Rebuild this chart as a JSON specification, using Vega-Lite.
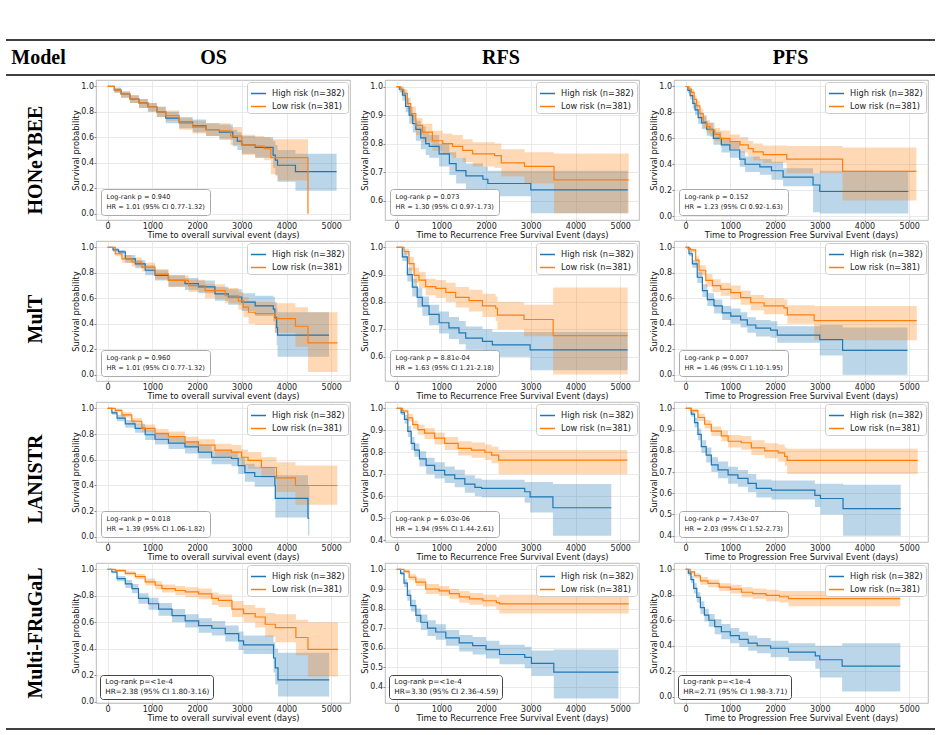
{
"$schema": "https://vega.github.io/schema/vega-lite/v6.json",
"padding": {"left": 5, "top": 39, "right": 5, "bottom": 5},
"background": "white",
"config": {
  "font": "DejaVu Sans",
  "view": {"stroke": "#aaaaaa", "strokeWidth": 0.8},
  "axis": {"labelFontSize": 8, "titleFontSize": 8.3, "labelColor": "#222222", "titleColor": "#111111", "titleFontWeight": "normal", "gridColor": "#e5e5e5", "gridWidth": 0.8, "domain": false, "tickColor": "#888888", "tickSize": 2, "labelPadding": 0.5, "titlePadding": 0, "labelFont": "DejaVu Sans", "titleFont": "DejaVu Sans", "labelOverlap": false}
},
"datasets": {
"p1": [
{"g":"High risk (n=382)","t":0,"s":1,"lo":1,"hi":1},{"g":"High risk (n=382)","t":150,"s":0.97,"lo":0.95,"hi":0.99},{"g":"High risk (n=382)","t":300,"s":0.94,"lo":0.91,"hi":0.96},{"g":"High risk (n=382)","t":500,"s":0.9,"lo":0.87,"hi":0.93},{"g":"High risk (n=382)","t":700,"s":0.87,"lo":0.83,"hi":0.9},{"g":"High risk (n=382)","t":900,"s":0.84,"lo":0.8,"hi":0.87},{"g":"High risk (n=382)","t":1100,"s":0.8,"lo":0.76,"hi":0.84},{"g":"High risk (n=382)","t":1300,"s":0.75,"lo":0.71,"hi":0.8},{"g":"High risk (n=382)","t":1600,"s":0.72,"lo":0.67,"hi":0.76},{"g":"High risk (n=382)","t":1900,"s":0.69,"lo":0.64,"hi":0.74},{"g":"High risk (n=382)","t":2200,"s":0.66,"lo":0.61,"hi":0.71},{"g":"High risk (n=382)","t":2500,"s":0.64,"lo":0.58,"hi":0.7},{"g":"High risk (n=382)","t":2800,"s":0.6,"lo":0.53,"hi":0.66},{"g":"High risk (n=382)","t":2900,"s":0.57,"lo":0.5,"hi":0.64},{"g":"High risk (n=382)","t":3000,"s":0.54,"lo":0.47,"hi":0.61},{"g":"High risk (n=382)","t":3300,"s":0.52,"lo":0.44,"hi":0.6},{"g":"High risk (n=382)","t":3700,"s":0.46,"lo":0.36,"hi":0.57},{"g":"High risk (n=382)","t":3750,"s":0.42,"lo":0.3,"hi":0.54},{"g":"High risk (n=382)","t":3800,"s":0.38,"lo":0.25,"hi":0.5},{"g":"High risk (n=382)","t":4200,"s":0.33,"lo":0.18,"hi":0.47},{"g":"High risk (n=382)","t":5120,"s":0.33,"lo":0.18,"hi":0.47},
{"g":"Low risk (n=381)","t":0,"s":1,"lo":1,"hi":1},{"g":"Low risk (n=381)","t":150,"s":0.97,"lo":0.95,"hi":0.99},{"g":"Low risk (n=381)","t":300,"s":0.94,"lo":0.91,"hi":0.96},{"g":"Low risk (n=381)","t":500,"s":0.9,"lo":0.87,"hi":0.93},{"g":"Low risk (n=381)","t":700,"s":0.87,"lo":0.83,"hi":0.9},{"g":"Low risk (n=381)","t":900,"s":0.84,"lo":0.8,"hi":0.87},{"g":"Low risk (n=381)","t":1100,"s":0.8,"lo":0.76,"hi":0.84},{"g":"Low risk (n=381)","t":1300,"s":0.77,"lo":0.73,"hi":0.81},{"g":"Low risk (n=381)","t":1600,"s":0.71,"lo":0.66,"hi":0.75},{"g":"Low risk (n=381)","t":1900,"s":0.68,"lo":0.63,"hi":0.73},{"g":"Low risk (n=381)","t":2200,"s":0.66,"lo":0.61,"hi":0.71},{"g":"Low risk (n=381)","t":2500,"s":0.65,"lo":0.59,"hi":0.71},{"g":"Low risk (n=381)","t":2750,"s":0.61,"lo":0.54,"hi":0.68},{"g":"Low risk (n=381)","t":3000,"s":0.54,"lo":0.46,"hi":0.62},{"g":"Low risk (n=381)","t":3300,"s":0.53,"lo":0.44,"hi":0.61},{"g":"Low risk (n=381)","t":3500,"s":0.51,"lo":0.42,"hi":0.6},{"g":"Low risk (n=381)","t":3650,"s":0.44,"lo":0.31,"hi":0.585},{"g":"Low risk (n=381)","t":3800,"s":0.44,"lo":0.26,"hi":0.585},{"g":"Low risk (n=381)","t":4480,"s":0,"lo":0,"hi":0}
],
"p2": [
{"g":"High risk (n=382)","t":0,"s":1,"lo":1,"hi":1},{"g":"High risk (n=382)","t":60,"s":0.99,"lo":0.98,"hi":1},{"g":"High risk (n=382)","t":130,"s":0.97,"lo":0.95,"hi":0.99},{"g":"High risk (n=382)","t":200,"s":0.93,"lo":0.91,"hi":0.96},{"g":"High risk (n=382)","t":280,"s":0.9,"lo":0.87,"hi":0.93},{"g":"High risk (n=382)","t":360,"s":0.87,"lo":0.84,"hi":0.9},{"g":"High risk (n=382)","t":430,"s":0.85,"lo":0.81,"hi":0.88},{"g":"High risk (n=382)","t":540,"s":0.82,"lo":0.78,"hi":0.86},{"g":"High risk (n=382)","t":650,"s":0.8,"lo":0.76,"hi":0.84},{"g":"High risk (n=382)","t":730,"s":0.79,"lo":0.75,"hi":0.83},{"g":"High risk (n=382)","t":950,"s":0.764,"lo":0.72,"hi":0.8},{"g":"High risk (n=382)","t":1180,"s":0.73,"lo":0.69,"hi":0.77},{"g":"High risk (n=382)","t":1330,"s":0.705,"lo":0.66,"hi":0.75},{"g":"High risk (n=382)","t":1550,"s":0.687,"lo":0.64,"hi":0.73},{"g":"High risk (n=382)","t":1930,"s":0.675,"lo":0.625,"hi":0.72},{"g":"High risk (n=382)","t":2040,"s":0.66,"lo":0.615,"hi":0.705},{"g":"High risk (n=382)","t":3000,"s":0.638,"lo":0.556,"hi":0.705},{"g":"High risk (n=382)","t":5170,"s":0.638,"lo":0.556,"hi":0.705},
{"g":"Low risk (n=381)","t":0,"s":1,"lo":1,"hi":1},{"g":"Low risk (n=381)","t":80,"s":0.99,"lo":0.98,"hi":1},{"g":"Low risk (n=381)","t":160,"s":0.976,"lo":0.96,"hi":0.99},{"g":"Low risk (n=381)","t":240,"s":0.94,"lo":0.92,"hi":0.96},{"g":"Low risk (n=381)","t":315,"s":0.905,"lo":0.88,"hi":0.93},{"g":"Low risk (n=381)","t":430,"s":0.864,"lo":0.83,"hi":0.89},{"g":"Low risk (n=381)","t":580,"s":0.84,"lo":0.805,"hi":0.87},{"g":"Low risk (n=381)","t":800,"s":0.81,"lo":0.775,"hi":0.845},{"g":"Low risk (n=381)","t":1030,"s":0.8,"lo":0.76,"hi":0.835},{"g":"Low risk (n=381)","t":1250,"s":0.79,"lo":0.75,"hi":0.83},{"g":"Low risk (n=381)","t":1480,"s":0.776,"lo":0.735,"hi":0.815},{"g":"Low risk (n=381)","t":1700,"s":0.764,"lo":0.72,"hi":0.805},{"g":"Low risk (n=381)","t":2190,"s":0.758,"lo":0.715,"hi":0.8},{"g":"Low risk (n=381)","t":2340,"s":0.732,"lo":0.685,"hi":0.78},{"g":"Low risk (n=381)","t":2860,"s":0.72,"lo":0.66,"hi":0.77},{"g":"Low risk (n=381)","t":3520,"s":0.673,"lo":0.556,"hi":0.765},{"g":"Low risk (n=381)","t":5190,"s":0.673,"lo":0.556,"hi":0.765}
],
"p3": [
{"g":"High risk (n=382)","t":0,"s":1,"lo":1,"hi":1},{"g":"High risk (n=382)","t":50,"s":0.97,"lo":0.95,"hi":0.99},{"g":"High risk (n=382)","t":100,"s":0.93,"lo":0.9,"hi":0.96},{"g":"High risk (n=382)","t":160,"s":0.87,"lo":0.83,"hi":0.9},{"g":"High risk (n=382)","t":210,"s":0.82,"lo":0.78,"hi":0.86},{"g":"High risk (n=382)","t":280,"s":0.76,"lo":0.71,"hi":0.8},{"g":"High risk (n=382)","t":360,"s":0.72,"lo":0.67,"hi":0.77},{"g":"High risk (n=382)","t":470,"s":0.67,"lo":0.62,"hi":0.72},{"g":"High risk (n=382)","t":620,"s":0.6,"lo":0.55,"hi":0.65},{"g":"High risk (n=382)","t":800,"s":0.55,"lo":0.49,"hi":0.6},{"g":"High risk (n=382)","t":990,"s":0.51,"lo":0.45,"hi":0.57},{"g":"High risk (n=382)","t":1210,"s":0.44,"lo":0.38,"hi":0.5},{"g":"High risk (n=382)","t":1330,"s":0.4,"lo":0.34,"hi":0.46},{"g":"High risk (n=382)","t":1660,"s":0.38,"lo":0.32,"hi":0.44},{"g":"High risk (n=382)","t":1920,"s":0.35,"lo":0.28,"hi":0.42},{"g":"High risk (n=382)","t":2180,"s":0.3,"lo":0.23,"hi":0.37},{"g":"High risk (n=382)","t":2850,"s":0.24,"lo":0.03,"hi":0.33},{"g":"High risk (n=382)","t":3000,"s":0.19,"lo":0.02,"hi":0.35},{"g":"High risk (n=382)","t":4980,"s":0.19,"lo":0.02,"hi":0.35},
{"g":"Low risk (n=381)","t":0,"s":1,"lo":1,"hi":1},{"g":"Low risk (n=381)","t":70,"s":0.98,"lo":0.96,"hi":1},{"g":"Low risk (n=381)","t":130,"s":0.955,"lo":0.93,"hi":0.98},{"g":"Low risk (n=381)","t":190,"s":0.9,"lo":0.87,"hi":0.93},{"g":"Low risk (n=381)","t":245,"s":0.85,"lo":0.81,"hi":0.89},{"g":"Low risk (n=381)","t":320,"s":0.79,"lo":0.75,"hi":0.83},{"g":"Low risk (n=381)","t":395,"s":0.73,"lo":0.68,"hi":0.78},{"g":"Low risk (n=381)","t":470,"s":0.69,"lo":0.64,"hi":0.74},{"g":"Low risk (n=381)","t":545,"s":0.665,"lo":0.61,"hi":0.72},{"g":"Low risk (n=381)","t":650,"s":0.63,"lo":0.58,"hi":0.68},{"g":"Low risk (n=381)","t":770,"s":0.6,"lo":0.55,"hi":0.66},{"g":"Low risk (n=381)","t":990,"s":0.575,"lo":0.52,"hi":0.63},{"g":"Low risk (n=381)","t":1215,"s":0.55,"lo":0.49,"hi":0.61},{"g":"Low risk (n=381)","t":1400,"s":0.52,"lo":0.46,"hi":0.58},{"g":"Low risk (n=381)","t":1510,"s":0.495,"lo":0.43,"hi":0.56},{"g":"Low risk (n=381)","t":1735,"s":0.475,"lo":0.41,"hi":0.545},{"g":"Low risk (n=381)","t":2260,"s":0.44,"lo":0.33,"hi":0.54},{"g":"Low risk (n=381)","t":3510,"s":0.345,"lo":0.12,"hi":0.53},{"g":"Low risk (n=381)","t":5160,"s":0.345,"lo":0.12,"hi":0.53}
],
"p4": [
{"g":"High risk (n=382)","t":0,"s":1,"lo":1,"hi":1},{"g":"High risk (n=382)","t":120,"s":0.98,"lo":0.965,"hi":0.995},{"g":"High risk (n=382)","t":245,"s":0.965,"lo":0.945,"hi":0.98},{"g":"High risk (n=382)","t":395,"s":0.91,"lo":0.88,"hi":0.94},{"g":"High risk (n=382)","t":620,"s":0.87,"lo":0.835,"hi":0.9},{"g":"High risk (n=382)","t":840,"s":0.82,"lo":0.78,"hi":0.86},{"g":"High risk (n=382)","t":1060,"s":0.78,"lo":0.74,"hi":0.82},{"g":"High risk (n=382)","t":1360,"s":0.74,"lo":0.69,"hi":0.78},{"g":"High risk (n=382)","t":1730,"s":0.715,"lo":0.665,"hi":0.76},{"g":"High risk (n=382)","t":2030,"s":0.69,"lo":0.64,"hi":0.74},{"g":"High risk (n=382)","t":2400,"s":0.635,"lo":0.58,"hi":0.69},{"g":"High risk (n=382)","t":2700,"s":0.61,"lo":0.55,"hi":0.67},{"g":"High risk (n=382)","t":3000,"s":0.57,"lo":0.5,"hi":0.64},{"g":"High risk (n=382)","t":3300,"s":0.54,"lo":0.46,"hi":0.62},{"g":"High risk (n=382)","t":3705,"s":0.515,"lo":0.42,"hi":0.61},{"g":"High risk (n=382)","t":3740,"s":0.45,"lo":0.33,"hi":0.57},{"g":"High risk (n=382)","t":3780,"s":0.37,"lo":0.23,"hi":0.52},{"g":"High risk (n=382)","t":3800,"s":0.31,"lo":0.14,"hi":0.49},{"g":"High risk (n=382)","t":4950,"s":0.31,"lo":0.14,"hi":0.49},
{"g":"Low risk (n=381)","t":0,"s":1,"lo":1,"hi":1},{"g":"Low risk (n=381)","t":170,"s":0.95,"lo":0.93,"hi":0.97},{"g":"Low risk (n=381)","t":320,"s":0.91,"lo":0.88,"hi":0.94},{"g":"Low risk (n=381)","t":540,"s":0.885,"lo":0.85,"hi":0.92},{"g":"Low risk (n=381)","t":765,"s":0.845,"lo":0.81,"hi":0.88},{"g":"Low risk (n=381)","t":1060,"s":0.79,"lo":0.75,"hi":0.83},{"g":"Low risk (n=381)","t":1360,"s":0.74,"lo":0.69,"hi":0.78},{"g":"Low risk (n=381)","t":1810,"s":0.7,"lo":0.65,"hi":0.745},{"g":"Low risk (n=381)","t":2180,"s":0.66,"lo":0.6,"hi":0.71},{"g":"Low risk (n=381)","t":2630,"s":0.62,"lo":0.56,"hi":0.68},{"g":"Low risk (n=381)","t":2925,"s":0.58,"lo":0.51,"hi":0.65},{"g":"Low risk (n=381)","t":3035,"s":0.53,"lo":0.45,"hi":0.61},{"g":"Low risk (n=381)","t":3150,"s":0.49,"lo":0.4,"hi":0.58},{"g":"Low risk (n=381)","t":3300,"s":0.48,"lo":0.39,"hi":0.57},{"g":"Low risk (n=381)","t":3740,"s":0.44,"lo":0.33,"hi":0.56},{"g":"Low risk (n=381)","t":4200,"s":0.38,"lo":0.22,"hi":0.53},{"g":"Low risk (n=381)","t":4480,"s":0.25,"lo":0.02,"hi":0.49},{"g":"Low risk (n=381)","t":5140,"s":0.25,"lo":0.02,"hi":0.49}
],
"p5": [
{"g":"High risk (n=382)","t":0,"s":1,"lo":1,"hi":1},{"g":"High risk (n=382)","t":50,"s":1,"lo":1,"hi":1},{"g":"High risk (n=382)","t":127,"s":0.965,"lo":0.95,"hi":0.98},{"g":"High risk (n=382)","t":240,"s":0.9,"lo":0.875,"hi":0.925},{"g":"High risk (n=382)","t":350,"s":0.854,"lo":0.82,"hi":0.885},{"g":"High risk (n=382)","t":460,"s":0.817,"lo":0.78,"hi":0.85},{"g":"High risk (n=382)","t":575,"s":0.786,"lo":0.75,"hi":0.82},{"g":"High risk (n=382)","t":725,"s":0.755,"lo":0.715,"hi":0.79},{"g":"High risk (n=382)","t":950,"s":0.724,"lo":0.685,"hi":0.765},{"g":"High risk (n=382)","t":1170,"s":0.705,"lo":0.665,"hi":0.745},{"g":"High risk (n=382)","t":1395,"s":0.687,"lo":0.645,"hi":0.73},{"g":"High risk (n=382)","t":1545,"s":0.668,"lo":0.625,"hi":0.71},{"g":"High risk (n=382)","t":1920,"s":0.656,"lo":0.61,"hi":0.7},{"g":"High risk (n=382)","t":2140,"s":0.643,"lo":0.6,"hi":0.69},{"g":"High risk (n=382)","t":2985,"s":0.625,"lo":0.55,"hi":0.69},{"g":"High risk (n=382)","t":5165,"s":0.625,"lo":0.55,"hi":0.69},
{"g":"Low risk (n=381)","t":0,"s":1,"lo":1,"hi":1},{"g":"Low risk (n=381)","t":80,"s":1,"lo":1,"hi":1},{"g":"Low risk (n=381)","t":165,"s":0.984,"lo":0.975,"hi":0.995},{"g":"Low risk (n=381)","t":275,"s":0.94,"lo":0.915,"hi":0.965},{"g":"Low risk (n=381)","t":390,"s":0.897,"lo":0.87,"hi":0.925},{"g":"Low risk (n=381)","t":500,"s":0.88,"lo":0.85,"hi":0.91},{"g":"Low risk (n=381)","t":650,"s":0.856,"lo":0.825,"hi":0.885},{"g":"Low risk (n=381)","t":875,"s":0.85,"lo":0.815,"hi":0.88},{"g":"Low risk (n=381)","t":1100,"s":0.835,"lo":0.8,"hi":0.87},{"g":"Low risk (n=381)","t":1320,"s":0.817,"lo":0.78,"hi":0.855},{"g":"Low risk (n=381)","t":1620,"s":0.805,"lo":0.765,"hi":0.845},{"g":"Low risk (n=381)","t":1920,"s":0.786,"lo":0.745,"hi":0.83},{"g":"Low risk (n=381)","t":2215,"s":0.777,"lo":0.73,"hi":0.82},{"g":"Low risk (n=381)","t":2255,"s":0.752,"lo":0.7,"hi":0.8},{"g":"Low risk (n=381)","t":2850,"s":0.736,"lo":0.675,"hi":0.79},{"g":"Low risk (n=381)","t":3500,"s":0.677,"lo":0.535,"hi":0.853},{"g":"Low risk (n=381)","t":5165,"s":0.677,"lo":0.535,"hi":0.853}
],
"p6": [
{"g":"High risk (n=382)","t":0,"s":1,"lo":1,"hi":1},{"g":"High risk (n=382)","t":75,"s":0.95,"lo":0.93,"hi":0.97},{"g":"High risk (n=382)","t":150,"s":0.87,"lo":0.84,"hi":0.9},{"g":"High risk (n=382)","t":260,"s":0.765,"lo":0.72,"hi":0.81},{"g":"High risk (n=382)","t":375,"s":0.66,"lo":0.61,"hi":0.71},{"g":"High risk (n=382)","t":485,"s":0.59,"lo":0.54,"hi":0.64},{"g":"High risk (n=382)","t":635,"s":0.54,"lo":0.48,"hi":0.59},{"g":"High risk (n=382)","t":820,"s":0.485,"lo":0.43,"hi":0.54},{"g":"High risk (n=382)","t":1010,"s":0.46,"lo":0.4,"hi":0.52},{"g":"High risk (n=382)","t":1230,"s":0.43,"lo":0.37,"hi":0.49},{"g":"High risk (n=382)","t":1380,"s":0.39,"lo":0.33,"hi":0.45},{"g":"High risk (n=382)","t":1570,"s":0.365,"lo":0.3,"hi":0.43},{"g":"High risk (n=382)","t":1900,"s":0.35,"lo":0.29,"hi":0.42},{"g":"High risk (n=382)","t":2050,"s":0.31,"lo":0.25,"hi":0.38},{"g":"High risk (n=382)","t":3000,"s":0.275,"lo":0.15,"hi":0.39},{"g":"High risk (n=382)","t":3510,"s":0.19,"lo":0,"hi":0.37},{"g":"High risk (n=382)","t":4960,"s":0.19,"lo":0,"hi":0.37},
{"g":"Low risk (n=381)","t":0,"s":1,"lo":1,"hi":1},{"g":"Low risk (n=381)","t":50,"s":0.99,"lo":0.98,"hi":1},{"g":"Low risk (n=381)","t":110,"s":0.98,"lo":0.96,"hi":0.99},{"g":"Low risk (n=381)","t":225,"s":0.9,"lo":0.87,"hi":0.93},{"g":"Low risk (n=381)","t":300,"s":0.82,"lo":0.78,"hi":0.86},{"g":"Low risk (n=381)","t":450,"s":0.74,"lo":0.69,"hi":0.79},{"g":"Low risk (n=381)","t":600,"s":0.7,"lo":0.65,"hi":0.75},{"g":"Low risk (n=381)","t":785,"s":0.67,"lo":0.62,"hi":0.72},{"g":"Low risk (n=381)","t":1010,"s":0.645,"lo":0.59,"hi":0.7},{"g":"Low risk (n=381)","t":1230,"s":0.605,"lo":0.55,"hi":0.66},{"g":"Low risk (n=381)","t":1455,"s":0.565,"lo":0.505,"hi":0.625},{"g":"Low risk (n=381)","t":1755,"s":0.54,"lo":0.475,"hi":0.6},{"g":"Low risk (n=381)","t":2200,"s":0.525,"lo":0.46,"hi":0.59},{"g":"Low risk (n=381)","t":2275,"s":0.47,"lo":0.4,"hi":0.545},{"g":"Low risk (n=381)","t":2875,"s":0.425,"lo":0.27,"hi":0.54},{"g":"Low risk (n=381)","t":5170,"s":0.425,"lo":0.27,"hi":0.54}
],
"p7": [
{"g":"High risk (n=382)","t":0,"s":1,"lo":1,"hi":1},{"g":"High risk (n=382)","t":95,"s":0.965,"lo":0.95,"hi":0.98},{"g":"High risk (n=382)","t":210,"s":0.925,"lo":0.9,"hi":0.95},{"g":"High risk (n=382)","t":395,"s":0.88,"lo":0.85,"hi":0.91},{"g":"High risk (n=382)","t":615,"s":0.845,"lo":0.81,"hi":0.88},{"g":"High risk (n=382)","t":840,"s":0.795,"lo":0.755,"hi":0.835},{"g":"High risk (n=382)","t":1060,"s":0.76,"lo":0.72,"hi":0.8},{"g":"High risk (n=382)","t":1360,"s":0.73,"lo":0.685,"hi":0.775},{"g":"High risk (n=382)","t":1730,"s":0.7,"lo":0.65,"hi":0.745},{"g":"High risk (n=382)","t":2030,"s":0.66,"lo":0.61,"hi":0.71},{"g":"High risk (n=382)","t":2325,"s":0.62,"lo":0.565,"hi":0.675},{"g":"High risk (n=382)","t":2770,"s":0.61,"lo":0.55,"hi":0.665},{"g":"High risk (n=382)","t":2920,"s":0.555,"lo":0.49,"hi":0.62},{"g":"High risk (n=382)","t":3070,"s":0.5,"lo":0.43,"hi":0.57},{"g":"High risk (n=382)","t":3290,"s":0.47,"lo":0.39,"hi":0.545},{"g":"High risk (n=382)","t":3740,"s":0.4,"lo":0.29,"hi":0.51},{"g":"High risk (n=382)","t":3750,"s":0.3,"lo":0.15,"hi":0.48},{"g":"High risk (n=382)","t":4480,"s":0.145,"lo":0.01,"hi":0.4},{"g":"High risk (n=382)","t":4510,"s":0.145,"lo":0.01,"hi":0.4},
{"g":"Low risk (n=381)","t":0,"s":1,"lo":1,"hi":1},{"g":"Low risk (n=381)","t":170,"s":0.985,"lo":0.975,"hi":0.995},{"g":"Low risk (n=381)","t":320,"s":0.95,"lo":0.93,"hi":0.97},{"g":"Low risk (n=381)","t":540,"s":0.9,"lo":0.875,"hi":0.925},{"g":"Low risk (n=381)","t":765,"s":0.845,"lo":0.815,"hi":0.875},{"g":"Low risk (n=381)","t":1060,"s":0.805,"lo":0.77,"hi":0.84},{"g":"Low risk (n=381)","t":1360,"s":0.78,"lo":0.74,"hi":0.82},{"g":"Low risk (n=381)","t":1730,"s":0.74,"lo":0.7,"hi":0.78},{"g":"Low risk (n=381)","t":2030,"s":0.715,"lo":0.67,"hi":0.76},{"g":"Low risk (n=381)","t":2400,"s":0.675,"lo":0.625,"hi":0.725},{"g":"Low risk (n=381)","t":2770,"s":0.66,"lo":0.605,"hi":0.715},{"g":"Low risk (n=381)","t":2995,"s":0.62,"lo":0.56,"hi":0.68},{"g":"Low risk (n=381)","t":3140,"s":0.595,"lo":0.53,"hi":0.66},{"g":"Low risk (n=381)","t":3440,"s":0.54,"lo":0.46,"hi":0.62},{"g":"Low risk (n=381)","t":3775,"s":0.46,"lo":0.35,"hi":0.58},{"g":"Low risk (n=381)","t":4200,"s":0.4,"lo":0.25,"hi":0.555},{"g":"Low risk (n=381)","t":5135,"s":0.4,"lo":0.25,"hi":0.555}
],
"p8": [
{"g":"High risk (n=382)","t":0,"s":1,"lo":1,"hi":1},{"g":"High risk (n=382)","t":50,"s":1,"lo":1,"hi":1},{"g":"High risk (n=382)","t":100,"s":0.98,"lo":0.97,"hi":0.99},{"g":"High risk (n=382)","t":175,"s":0.95,"lo":0.93,"hi":0.97},{"g":"High risk (n=382)","t":250,"s":0.895,"lo":0.87,"hi":0.92},{"g":"High risk (n=382)","t":325,"s":0.84,"lo":0.81,"hi":0.87},{"g":"High risk (n=382)","t":400,"s":0.81,"lo":0.78,"hi":0.84},{"g":"High risk (n=382)","t":510,"s":0.77,"lo":0.735,"hi":0.805},{"g":"High risk (n=382)","t":660,"s":0.74,"lo":0.7,"hi":0.775},{"g":"High risk (n=382)","t":850,"s":0.717,"lo":0.68,"hi":0.755},{"g":"High risk (n=382)","t":1075,"s":0.697,"lo":0.66,"hi":0.735},{"g":"High risk (n=382)","t":1300,"s":0.68,"lo":0.64,"hi":0.72},{"g":"High risk (n=382)","t":1525,"s":0.655,"lo":0.615,"hi":0.695},{"g":"High risk (n=382)","t":1750,"s":0.64,"lo":0.6,"hi":0.68},{"g":"High risk (n=382)","t":1900,"s":0.635,"lo":0.595,"hi":0.675},{"g":"High risk (n=382)","t":2865,"s":0.62,"lo":0.57,"hi":0.665},{"g":"High risk (n=382)","t":2985,"s":0.597,"lo":0.525,"hi":0.665},{"g":"High risk (n=382)","t":3495,"s":0.547,"lo":0.42,"hi":0.655},{"g":"High risk (n=382)","t":4800,"s":0.547,"lo":0.42,"hi":0.655},
{"g":"Low risk (n=381)","t":0,"s":1,"lo":1,"hi":1},{"g":"Low risk (n=381)","t":50,"s":1,"lo":1,"hi":1},{"g":"Low risk (n=381)","t":135,"s":0.988,"lo":0.98,"hi":0.995},{"g":"Low risk (n=381)","t":250,"s":0.957,"lo":0.94,"hi":0.975},{"g":"Low risk (n=381)","t":360,"s":0.926,"lo":0.905,"hi":0.945},{"g":"Low risk (n=381)","t":475,"s":0.903,"lo":0.88,"hi":0.925},{"g":"Low risk (n=381)","t":625,"s":0.887,"lo":0.86,"hi":0.91},{"g":"Low risk (n=381)","t":850,"s":0.864,"lo":0.835,"hi":0.89},{"g":"Low risk (n=381)","t":1075,"s":0.84,"lo":0.81,"hi":0.87},{"g":"Low risk (n=381)","t":1375,"s":0.818,"lo":0.785,"hi":0.85},{"g":"Low risk (n=381)","t":1675,"s":0.81,"lo":0.775,"hi":0.845},{"g":"Low risk (n=381)","t":1975,"s":0.8,"lo":0.765,"hi":0.835},{"g":"Low risk (n=381)","t":2125,"s":0.787,"lo":0.75,"hi":0.825},{"g":"Low risk (n=381)","t":2280,"s":0.764,"lo":0.7,"hi":0.81},{"g":"Low risk (n=381)","t":5160,"s":0.764,"lo":0.7,"hi":0.81}
],
"p9": [
{"g":"High risk (n=382)","t":0,"s":1,"lo":1,"hi":1},{"g":"High risk (n=382)","t":50,"s":1,"lo":1,"hi":1},{"g":"High risk (n=382)","t":125,"s":0.973,"lo":0.96,"hi":0.985},{"g":"High risk (n=382)","t":200,"s":0.933,"lo":0.91,"hi":0.955},{"g":"High risk (n=382)","t":275,"s":0.877,"lo":0.85,"hi":0.905},{"g":"High risk (n=382)","t":350,"s":0.82,"lo":0.79,"hi":0.85},{"g":"High risk (n=382)","t":460,"s":0.78,"lo":0.745,"hi":0.815},{"g":"High risk (n=382)","t":575,"s":0.734,"lo":0.7,"hi":0.77},{"g":"High risk (n=382)","t":725,"s":0.71,"lo":0.67,"hi":0.75},{"g":"High risk (n=382)","t":950,"s":0.686,"lo":0.645,"hi":0.725},{"g":"High risk (n=382)","t":1170,"s":0.67,"lo":0.63,"hi":0.71},{"g":"High risk (n=382)","t":1395,"s":0.646,"lo":0.605,"hi":0.69},{"g":"High risk (n=382)","t":1580,"s":0.623,"lo":0.58,"hi":0.665},{"g":"High risk (n=382)","t":1920,"s":0.615,"lo":0.57,"hi":0.66},{"g":"High risk (n=382)","t":2890,"s":0.59,"lo":0.535,"hi":0.645},{"g":"High risk (n=382)","t":3015,"s":0.575,"lo":0.5,"hi":0.645},{"g":"High risk (n=382)","t":3520,"s":0.527,"lo":0.4,"hi":0.64},{"g":"High risk (n=382)","t":4810,"s":0.527,"lo":0.4,"hi":0.64},
{"g":"Low risk (n=381)","t":0,"s":1,"lo":1,"hi":1},{"g":"Low risk (n=381)","t":50,"s":1,"lo":1,"hi":1},{"g":"Low risk (n=381)","t":125,"s":0.989,"lo":0.98,"hi":0.997},{"g":"Low risk (n=381)","t":275,"s":0.957,"lo":0.94,"hi":0.975},{"g":"Low risk (n=381)","t":425,"s":0.925,"lo":0.905,"hi":0.945},{"g":"Low risk (n=381)","t":575,"s":0.893,"lo":0.87,"hi":0.915},{"g":"Low risk (n=381)","t":800,"s":0.87,"lo":0.845,"hi":0.895},{"g":"Low risk (n=381)","t":950,"s":0.845,"lo":0.815,"hi":0.875},{"g":"Low risk (n=381)","t":1245,"s":0.838,"lo":0.805,"hi":0.87},{"g":"Low risk (n=381)","t":1470,"s":0.814,"lo":0.78,"hi":0.85},{"g":"Low risk (n=381)","t":1770,"s":0.8,"lo":0.765,"hi":0.835},{"g":"Low risk (n=381)","t":2070,"s":0.79,"lo":0.75,"hi":0.83},{"g":"Low risk (n=381)","t":2215,"s":0.774,"lo":0.73,"hi":0.815},{"g":"Low risk (n=381)","t":2270,"s":0.755,"lo":0.69,"hi":0.81},{"g":"Low risk (n=381)","t":5190,"s":0.755,"lo":0.69,"hi":0.81}
],
"p10": [
{"g":"High risk (n=382)","t":0,"s":1,"lo":1,"hi":1},{"g":"High risk (n=382)","t":95,"s":0.98,"lo":0.97,"hi":0.99},{"g":"High risk (n=382)","t":210,"s":0.93,"lo":0.91,"hi":0.95},{"g":"High risk (n=382)","t":395,"s":0.89,"lo":0.86,"hi":0.92},{"g":"High risk (n=382)","t":545,"s":0.855,"lo":0.82,"hi":0.89},{"g":"High risk (n=382)","t":690,"s":0.78,"lo":0.74,"hi":0.82},{"g":"High risk (n=382)","t":915,"s":0.74,"lo":0.695,"hi":0.785},{"g":"High risk (n=382)","t":1140,"s":0.7,"lo":0.65,"hi":0.745},{"g":"High risk (n=382)","t":1440,"s":0.65,"lo":0.6,"hi":0.7},{"g":"High risk (n=382)","t":1735,"s":0.61,"lo":0.56,"hi":0.66},{"g":"High risk (n=382)","t":2035,"s":0.575,"lo":0.52,"hi":0.63},{"g":"High risk (n=382)","t":2330,"s":0.555,"lo":0.5,"hi":0.61},{"g":"High risk (n=382)","t":2630,"s":0.515,"lo":0.455,"hi":0.575},{"g":"High risk (n=382)","t":2930,"s":0.46,"lo":0.39,"hi":0.53},{"g":"High risk (n=382)","t":3040,"s":0.43,"lo":0.36,"hi":0.5},{"g":"High risk (n=382)","t":3710,"s":0.33,"lo":0.22,"hi":0.45},{"g":"High risk (n=382)","t":3750,"s":0.255,"lo":0.13,"hi":0.4},{"g":"High risk (n=382)","t":3810,"s":0.165,"lo":0.04,"hi":0.37},{"g":"High risk (n=382)","t":4955,"s":0.165,"lo":0.04,"hi":0.37},
{"g":"Low risk (n=381)","t":0,"s":1,"lo":1,"hi":1},{"g":"Low risk (n=381)","t":170,"s":0.99,"lo":0.98,"hi":1},{"g":"Low risk (n=381)","t":395,"s":0.97,"lo":0.955,"hi":0.985},{"g":"Low risk (n=381)","t":620,"s":0.945,"lo":0.925,"hi":0.965},{"g":"Low risk (n=381)","t":840,"s":0.905,"lo":0.88,"hi":0.93},{"g":"Low risk (n=381)","t":1065,"s":0.88,"lo":0.85,"hi":0.91},{"g":"Low risk (n=381)","t":1215,"s":0.855,"lo":0.825,"hi":0.885},{"g":"Low risk (n=381)","t":1515,"s":0.84,"lo":0.805,"hi":0.875},{"g":"Low risk (n=381)","t":1735,"s":0.83,"lo":0.79,"hi":0.865},{"g":"Low risk (n=381)","t":2035,"s":0.815,"lo":0.775,"hi":0.855},{"g":"Low risk (n=381)","t":2330,"s":0.78,"lo":0.73,"hi":0.825},{"g":"Low risk (n=381)","t":2480,"s":0.765,"lo":0.715,"hi":0.81},{"g":"Low risk (n=381)","t":2780,"s":0.7,"lo":0.64,"hi":0.76},{"g":"Low risk (n=381)","t":3040,"s":0.665,"lo":0.6,"hi":0.73},{"g":"Low risk (n=381)","t":3300,"s":0.64,"lo":0.56,"hi":0.71},{"g":"Low risk (n=381)","t":3525,"s":0.585,"lo":0.49,"hi":0.67},{"g":"Low risk (n=381)","t":3750,"s":0.56,"lo":0.45,"hi":0.66},{"g":"Low risk (n=381)","t":4210,"s":0.485,"lo":0.35,"hi":0.62},{"g":"Low risk (n=381)","t":4480,"s":0.395,"lo":0.19,"hi":0.6},{"g":"Low risk (n=381)","t":5150,"s":0.395,"lo":0.19,"hi":0.6}
],
"p11": [
{"g":"High risk (n=382)","t":0,"s":1,"lo":1,"hi":1},{"g":"High risk (n=382)","t":90,"s":0.98,"lo":0.97,"hi":0.99},{"g":"High risk (n=382)","t":165,"s":0.93,"lo":0.91,"hi":0.95},{"g":"High risk (n=382)","t":240,"s":0.867,"lo":0.84,"hi":0.895},{"g":"High risk (n=382)","t":315,"s":0.815,"lo":0.785,"hi":0.845},{"g":"High risk (n=382)","t":430,"s":0.765,"lo":0.73,"hi":0.8},{"g":"High risk (n=382)","t":540,"s":0.73,"lo":0.69,"hi":0.77},{"g":"High risk (n=382)","t":690,"s":0.7,"lo":0.66,"hi":0.74},{"g":"High risk (n=382)","t":875,"s":0.68,"lo":0.64,"hi":0.72},{"g":"High risk (n=382)","t":1100,"s":0.65,"lo":0.61,"hi":0.69},{"g":"High risk (n=382)","t":1400,"s":0.625,"lo":0.58,"hi":0.665},{"g":"High risk (n=382)","t":1700,"s":0.61,"lo":0.565,"hi":0.655},{"g":"High risk (n=382)","t":2000,"s":0.59,"lo":0.545,"hi":0.635},{"g":"High risk (n=382)","t":2300,"s":0.565,"lo":0.515,"hi":0.615},{"g":"High risk (n=382)","t":2865,"s":0.55,"lo":0.495,"hi":0.605},{"g":"High risk (n=382)","t":3015,"s":0.52,"lo":0.455,"hi":0.585},{"g":"High risk (n=382)","t":3515,"s":0.475,"lo":0.34,"hi":0.59},{"g":"High risk (n=382)","t":4960,"s":0.475,"lo":0.34,"hi":0.59},
{"g":"Low risk (n=381)","t":0,"s":1,"lo":1,"hi":1},{"g":"Low risk (n=381)","t":165,"s":0.99,"lo":0.98,"hi":1},{"g":"Low risk (n=381)","t":280,"s":0.96,"lo":0.945,"hi":0.975},{"g":"Low risk (n=381)","t":430,"s":0.935,"lo":0.915,"hi":0.955},{"g":"Low risk (n=381)","t":650,"s":0.9,"lo":0.875,"hi":0.925},{"g":"Low risk (n=381)","t":950,"s":0.89,"lo":0.865,"hi":0.915},{"g":"Low risk (n=381)","t":1180,"s":0.876,"lo":0.85,"hi":0.9},{"g":"Low risk (n=381)","t":1400,"s":0.86,"lo":0.83,"hi":0.89},{"g":"Low risk (n=381)","t":1630,"s":0.85,"lo":0.82,"hi":0.88},{"g":"Low risk (n=381)","t":1930,"s":0.84,"lo":0.81,"hi":0.87},{"g":"Low risk (n=381)","t":2230,"s":0.83,"lo":0.795,"hi":0.86},{"g":"Low risk (n=381)","t":2300,"s":0.824,"lo":0.775,"hi":0.87},{"g":"Low risk (n=381)","t":5190,"s":0.824,"lo":0.775,"hi":0.87}
],
"p12": [
{"g":"High risk (n=382)","t":0,"s":1,"lo":1,"hi":1},{"g":"High risk (n=382)","t":60,"s":0.97,"lo":0.95,"hi":0.99},{"g":"High risk (n=382)","t":120,"s":0.92,"lo":0.89,"hi":0.95},{"g":"High risk (n=382)","t":180,"s":0.85,"lo":0.81,"hi":0.89},{"g":"High risk (n=382)","t":250,"s":0.78,"lo":0.74,"hi":0.82},{"g":"High risk (n=382)","t":330,"s":0.7,"lo":0.65,"hi":0.75},{"g":"High risk (n=382)","t":420,"s":0.64,"lo":0.59,"hi":0.69},{"g":"High risk (n=382)","t":520,"s":0.6,"lo":0.55,"hi":0.65},{"g":"High risk (n=382)","t":650,"s":0.55,"lo":0.49,"hi":0.61},{"g":"High risk (n=382)","t":800,"s":0.51,"lo":0.45,"hi":0.57},{"g":"High risk (n=382)","t":1000,"s":0.48,"lo":0.42,"hi":0.54},{"g":"High risk (n=382)","t":1200,"s":0.45,"lo":0.39,"hi":0.51},{"g":"High risk (n=382)","t":1400,"s":0.42,"lo":0.36,"hi":0.48},{"g":"High risk (n=382)","t":1600,"s":0.4,"lo":0.34,"hi":0.46},{"g":"High risk (n=382)","t":1900,"s":0.38,"lo":0.31,"hi":0.44},{"g":"High risk (n=382)","t":2300,"s":0.35,"lo":0.28,"hi":0.42},{"g":"High risk (n=382)","t":2900,"s":0.32,"lo":0.22,"hi":0.4},{"g":"High risk (n=382)","t":3000,"s":0.29,"lo":0.15,"hi":0.4},{"g":"High risk (n=382)","t":3500,"s":0.24,"lo":0.04,"hi":0.42},{"g":"High risk (n=382)","t":4800,"s":0.24,"lo":0.04,"hi":0.42},
{"g":"Low risk (n=381)","t":0,"s":1,"lo":1,"hi":1},{"g":"Low risk (n=381)","t":100,"s":0.98,"lo":0.96,"hi":0.99},{"g":"Low risk (n=381)","t":200,"s":0.95,"lo":0.93,"hi":0.97},{"g":"Low risk (n=381)","t":330,"s":0.91,"lo":0.88,"hi":0.94},{"g":"Low risk (n=381)","t":500,"s":0.89,"lo":0.86,"hi":0.92},{"g":"Low risk (n=381)","t":750,"s":0.86,"lo":0.83,"hi":0.89},{"g":"Low risk (n=381)","t":1000,"s":0.845,"lo":0.81,"hi":0.88},{"g":"Low risk (n=381)","t":1250,"s":0.82,"lo":0.78,"hi":0.86},{"g":"Low risk (n=381)","t":1500,"s":0.81,"lo":0.77,"hi":0.85},{"g":"Low risk (n=381)","t":1800,"s":0.795,"lo":0.75,"hi":0.84},{"g":"Low risk (n=381)","t":2100,"s":0.785,"lo":0.74,"hi":0.83},{"g":"Low risk (n=381)","t":2300,"s":0.77,"lo":0.71,"hi":0.83},{"g":"Low risk (n=381)","t":4800,"s":0.77,"lo":0.71,"hi":0.83}
]
},
"vconcat": [
 {"hconcat": [
   {"width": 65, "height": 35, "view": {"stroke": null}, "layer": [
     {"data": {"values": [{"edge": "top"}, {"edge": "bottom"}]}, "mark": {"type": "rule", "strokeWidth": 1.5, "color": "black"}, "encoding": {"y": {"field": "edge", "type": "nominal", "scale": {"type": "point", "domain": ["top", "bottom"], "padding": 0}, "axis": null}}},
     {"data": {"values": [{"h": "Model"}]}, "mark": {"type": "text", "font": "Liberation Serif", "fontWeight": "bold", "fontSize": 20, "color": "black"}, "encoding": {"text": {"field": "h"}}}]},
   {"width": 285, "height": 35, "view": {"stroke": null}, "layer": [
     {"data": {"values": [{"edge": "top"}, {"edge": "bottom"}]}, "mark": {"type": "rule", "strokeWidth": 1.5, "color": "black"}, "encoding": {"y": {"field": "edge", "type": "nominal", "scale": {"type": "point", "domain": ["top", "bottom"], "padding": 0}, "axis": null}}},
     {"data": {"values": [{"h": "OS"}]}, "mark": {"type": "text", "font": "Liberation Serif", "fontWeight": "bold", "fontSize": 20, "color": "black"}, "encoding": {"text": {"field": "h"}}}]},
   {"width": 290, "height": 35, "view": {"stroke": null}, "layer": [
     {"data": {"values": [{"edge": "top"}, {"edge": "bottom"}]}, "mark": {"type": "rule", "strokeWidth": 1.5, "color": "black"}, "encoding": {"y": {"field": "edge", "type": "nominal", "scale": {"type": "point", "domain": ["top", "bottom"], "padding": 0}, "axis": null}}},
     {"data": {"values": [{"h": "RFS"}]}, "mark": {"type": "text", "font": "Liberation Serif", "fontWeight": "bold", "fontSize": 20, "color": "black"}, "encoding": {"text": {"field": "h"}}}]},
   {"width": 289, "height": 35, "view": {"stroke": null}, "layer": [
     {"data": {"values": [{"edge": "top"}, {"edge": "bottom"}]}, "mark": {"type": "rule", "strokeWidth": 1.5, "color": "black"}, "encoding": {"y": {"field": "edge", "type": "nominal", "scale": {"type": "point", "domain": ["top", "bottom"], "padding": 0}, "axis": null}}},
     {"data": {"values": [{"h": "PFS"}]}, "mark": {"type": "text", "font": "Liberation Serif", "fontWeight": "bold", "fontSize": 20, "color": "black"}, "encoding": {"text": {"field": "h"}}}]}
  ], "spacing": 0, "bounds": "flush"},
 {"vconcat": [
  {"hconcat": [
    {"width": 55, "height": 140, "view": {"stroke": null}, "data": {"values": [{"m": "HONeYBEE"}]}, "mark": {"type": "text", "angle": 270, "dx": -10, "dy": 2.5, "font": "Liberation Serif", "fontWeight": "bold", "fontSize": 20, "color": "black"}, "encoding": {"text": {"field": "m"}}},
      {"width": 254, "height": 140, "layer": [
        {"data": {"name": "p1"}, "encoding": {"x": {"field": "t", "type": "quantitative", "scale": {"domain": [-260, 5420], "nice": false, "zero": false}, "axis": {"values": [0,1000,2000,3000,4000,5000], "format": "d", "title": "Time to overall survival event (days)"}}, "color": {"field": "g", "type": "nominal", "scale": {"domain": ["High risk (n=382)", "Low risk (n=381)"], "range": ["#1f77b4", "#ff7f0e"]}, "legend": {"title": null, "orient": "top-right", "offset": 2, "fillColor": "white", "strokeColor": "#cccccc", "cornerRadius": 3, "padding": 3, "labelFontSize": 8.2, "labelFont": "DejaVu Sans", "labelColor": "#222222", "symbolType": "stroke", "symbolSize": 225, "symbolStrokeWidth": 1.5, "symbolOpacity": 1, "rowPadding": 1, "labelOffset": 5}}}, "layer": [
          {"mark": {"type": "area", "interpolate": "step-after", "opacity": 0.3}, "encoding": {"y": {"field": "lo", "type": "quantitative", "scale": {"domain": [-0.05, 1.05], "nice": false, "zero": false}, "axis": {"values": [0,0.2,0.4,0.6,0.8,1], "format": ".1f", "title": "Survival probability"}}, "y2": {"field": "hi"}}},
          {"mark": {"type": "line", "interpolate": "step-after", "strokeWidth": 1.2}, "encoding": {"y": {"field": "s", "type": "quantitative", "axis": {"values": [0,0.2,0.4,0.6,0.8,1], "format": ".1f", "title": "Survival probability"}}}}]},
        {"data": {"values": [{"stat": "Log-rank p = 0.940"}, {"stat": "HR = 1.01 (95% CI 0.77-1.32)"}]}, "mark": {"type": "point", "opacity": 0, "size": 0}, "encoding": {"shape": {"field": "stat", "type": "nominal", "sort": null, "legend": {"title": null, "orient": "bottom-left", "offset": 5, "fillColor": "white", "strokeColor": "#aaaaaa", "cornerRadius": 3, "padding": 4.5, "labelFontSize": 6.6, "labelFont": "DejaVu Sans", "labelColor": "#222222", "symbolSize": 0.01, "symbolStrokeWidth": 0, "symbolOpacity": 0, "labelOffset": -5.5, "rowPadding": 3}}}}]},
      {"width": 254, "height": 140, "layer": [
        {"data": {"name": "p2"}, "encoding": {"x": {"field": "t", "type": "quantitative", "scale": {"domain": [-260, 5420], "nice": false, "zero": false}, "axis": {"values": [0,1000,2000,3000,4000,5000], "format": "d", "title": "Time to Recurrence Free Survival Event (days)"}}, "color": {"field": "g", "type": "nominal", "scale": {"domain": ["High risk (n=382)", "Low risk (n=381)"], "range": ["#1f77b4", "#ff7f0e"]}, "legend": {"title": null, "orient": "top-right", "offset": 2, "fillColor": "white", "strokeColor": "#cccccc", "cornerRadius": 3, "padding": 3, "labelFontSize": 8.2, "labelFont": "DejaVu Sans", "labelColor": "#222222", "symbolType": "stroke", "symbolSize": 225, "symbolStrokeWidth": 1.5, "symbolOpacity": 1, "rowPadding": 1, "labelOffset": 5}}}, "layer": [
          {"mark": {"type": "area", "interpolate": "step-after", "opacity": 0.3}, "encoding": {"y": {"field": "lo", "type": "quantitative", "scale": {"domain": [0.532, 1.023], "nice": false, "zero": false}, "axis": {"values": [0.6,0.7,0.8,0.9,1], "format": ".1f", "title": "Survival probability"}}, "y2": {"field": "hi"}}},
          {"mark": {"type": "line", "interpolate": "step-after", "strokeWidth": 1.2}, "encoding": {"y": {"field": "s", "type": "quantitative", "axis": {"values": [0.6,0.7,0.8,0.9,1], "format": ".1f", "title": "Survival probability"}}}}]},
        {"data": {"values": [{"stat": "Log-rank p = 0.073"}, {"stat": "HR = 1.30 (95% CI 0.97-1.73)"}]}, "mark": {"type": "point", "opacity": 0, "size": 0}, "encoding": {"shape": {"field": "stat", "type": "nominal", "sort": null, "legend": {"title": null, "orient": "bottom-left", "offset": 5, "fillColor": "white", "strokeColor": "#aaaaaa", "cornerRadius": 3, "padding": 4.5, "labelFontSize": 6.6, "labelFont": "DejaVu Sans", "labelColor": "#222222", "symbolSize": 0.01, "symbolStrokeWidth": 0, "symbolOpacity": 0, "labelOffset": -5.5, "rowPadding": 3}}}}]},
      {"width": 254, "height": 140, "layer": [
        {"data": {"name": "p3"}, "encoding": {"x": {"field": "t", "type": "quantitative", "scale": {"domain": [-260, 5420], "nice": false, "zero": false}, "axis": {"values": [0,1000,2000,3000,4000,5000], "format": "d", "title": "Time to Progression Free Survival Event (days)"}}, "color": {"field": "g", "type": "nominal", "scale": {"domain": ["High risk (n=382)", "Low risk (n=381)"], "range": ["#1f77b4", "#ff7f0e"]}, "legend": {"title": null, "orient": "top-right", "offset": 2, "fillColor": "white", "strokeColor": "#cccccc", "cornerRadius": 3, "padding": 3, "labelFontSize": 8.2, "labelFont": "DejaVu Sans", "labelColor": "#222222", "symbolType": "stroke", "symbolSize": 225, "symbolStrokeWidth": 1.5, "symbolOpacity": 1, "rowPadding": 1, "labelOffset": 5}}}, "layer": [
          {"mark": {"type": "area", "interpolate": "step-after", "opacity": 0.3}, "encoding": {"y": {"field": "lo", "type": "quantitative", "scale": {"domain": [-0.03, 1.05], "nice": false, "zero": false}, "axis": {"values": [0,0.2,0.4,0.6,0.8,1], "format": ".1f", "title": "Survival probability"}}, "y2": {"field": "hi"}}},
          {"mark": {"type": "line", "interpolate": "step-after", "strokeWidth": 1.2}, "encoding": {"y": {"field": "s", "type": "quantitative", "axis": {"values": [0,0.2,0.4,0.6,0.8,1], "format": ".1f", "title": "Survival probability"}}}}]},
        {"data": {"values": [{"stat": "Log-rank p = 0.152"}, {"stat": "HR = 1.23 (95% CI 0.92-1.63)"}]}, "mark": {"type": "point", "opacity": 0, "size": 0}, "encoding": {"shape": {"field": "stat", "type": "nominal", "sort": null, "legend": {"title": null, "orient": "bottom-left", "offset": 5, "fillColor": "white", "strokeColor": "#aaaaaa", "cornerRadius": 3, "padding": 4.5, "labelFontSize": 6.6, "labelFont": "DejaVu Sans", "labelColor": "#222222", "symbolSize": 0.01, "symbolStrokeWidth": 0, "symbolOpacity": 0, "labelOffset": -5.5, "rowPadding": 3}}}}]}
  ], "spacing": 35, "bounds": "flush", "resolve": {"scale": {"color": "independent", "shape": "independent"}}},
  {"hconcat": [
    {"width": 55, "height": 140, "view": {"stroke": null}, "data": {"values": [{"m": "MulT"}]}, "mark": {"type": "text", "angle": 270, "dx": -8, "dy": 2.5, "font": "Liberation Serif", "fontWeight": "bold", "fontSize": 20, "color": "black"}, "encoding": {"text": {"field": "m"}}},
      {"width": 254, "height": 140, "layer": [
        {"data": {"name": "p4"}, "encoding": {"x": {"field": "t", "type": "quantitative", "scale": {"domain": [-260, 5420], "nice": false, "zero": false}, "axis": {"values": [0,1000,2000,3000,4000,5000], "format": "d", "title": "Time to overall survival event (days)"}}, "color": {"field": "g", "type": "nominal", "scale": {"domain": ["High risk (n=382)", "Low risk (n=381)"], "range": ["#1f77b4", "#ff7f0e"]}, "legend": {"title": null, "orient": "top-right", "offset": 2, "fillColor": "white", "strokeColor": "#cccccc", "cornerRadius": 3, "padding": 3, "labelFontSize": 8.2, "labelFont": "DejaVu Sans", "labelColor": "#222222", "symbolType": "stroke", "symbolSize": 225, "symbolStrokeWidth": 1.5, "symbolOpacity": 1, "rowPadding": 1, "labelOffset": 5}}}, "layer": [
          {"mark": {"type": "area", "interpolate": "step-after", "opacity": 0.3}, "encoding": {"y": {"field": "lo", "type": "quantitative", "scale": {"domain": [-0.05, 1.05], "nice": false, "zero": false}, "axis": {"values": [0,0.2,0.4,0.6,0.8,1], "format": ".1f", "title": "Survival probability"}}, "y2": {"field": "hi"}}},
          {"mark": {"type": "line", "interpolate": "step-after", "strokeWidth": 1.2}, "encoding": {"y": {"field": "s", "type": "quantitative", "axis": {"values": [0,0.2,0.4,0.6,0.8,1], "format": ".1f", "title": "Survival probability"}}}}]},
        {"data": {"values": [{"stat": "Log-rank p = 0.960"}, {"stat": "HR = 1.01 (95% CI 0.77-1.32)"}]}, "mark": {"type": "point", "opacity": 0, "size": 0}, "encoding": {"shape": {"field": "stat", "type": "nominal", "sort": null, "legend": {"title": null, "orient": "bottom-left", "offset": 5, "fillColor": "white", "strokeColor": "#aaaaaa", "cornerRadius": 3, "padding": 4.5, "labelFontSize": 6.6, "labelFont": "DejaVu Sans", "labelColor": "#222222", "symbolSize": 0.01, "symbolStrokeWidth": 0, "symbolOpacity": 0, "labelOffset": -5.5, "rowPadding": 3}}}}]},
      {"width": 254, "height": 140, "layer": [
        {"data": {"name": "p5"}, "encoding": {"x": {"field": "t", "type": "quantitative", "scale": {"domain": [-260, 5420], "nice": false, "zero": false}, "axis": {"values": [0,1000,2000,3000,4000,5000], "format": "d", "title": "Time to Recurrence Free Survival Event (days)"}}, "color": {"field": "g", "type": "nominal", "scale": {"domain": ["High risk (n=382)", "Low risk (n=381)"], "range": ["#1f77b4", "#ff7f0e"]}, "legend": {"title": null, "orient": "top-right", "offset": 2, "fillColor": "white", "strokeColor": "#cccccc", "cornerRadius": 3, "padding": 3, "labelFontSize": 8.2, "labelFont": "DejaVu Sans", "labelColor": "#222222", "symbolType": "stroke", "symbolSize": 225, "symbolStrokeWidth": 1.5, "symbolOpacity": 1, "rowPadding": 1, "labelOffset": 5}}}, "layer": [
          {"mark": {"type": "area", "interpolate": "step-after", "opacity": 0.3}, "encoding": {"y": {"field": "lo", "type": "quantitative", "scale": {"domain": [0.511, 1.023], "nice": false, "zero": false}, "axis": {"values": [0.6,0.7,0.8,0.9,1], "format": ".1f", "title": "Survival probability"}}, "y2": {"field": "hi"}}},
          {"mark": {"type": "line", "interpolate": "step-after", "strokeWidth": 1.2}, "encoding": {"y": {"field": "s", "type": "quantitative", "axis": {"values": [0.6,0.7,0.8,0.9,1], "format": ".1f", "title": "Survival probability"}}}}]},
        {"data": {"values": [{"stat": "Log-rank p = 8.81e-04"}, {"stat": "HR = 1.63 (95% CI 1.21-2.18)"}]}, "mark": {"type": "point", "opacity": 0, "size": 0}, "encoding": {"shape": {"field": "stat", "type": "nominal", "sort": null, "legend": {"title": null, "orient": "bottom-left", "offset": 5, "fillColor": "white", "strokeColor": "#aaaaaa", "cornerRadius": 3, "padding": 4.5, "labelFontSize": 6.6, "labelFont": "DejaVu Sans", "labelColor": "#222222", "symbolSize": 0.01, "symbolStrokeWidth": 0, "symbolOpacity": 0, "labelOffset": -5.5, "rowPadding": 3}}}}]},
      {"width": 254, "height": 140, "layer": [
        {"data": {"name": "p6"}, "encoding": {"x": {"field": "t", "type": "quantitative", "scale": {"domain": [-260, 5420], "nice": false, "zero": false}, "axis": {"values": [0,1000,2000,3000,4000,5000], "format": "d", "title": "Time to Progression Free Survival Event (days)"}}, "color": {"field": "g", "type": "nominal", "scale": {"domain": ["High risk (n=382)", "Low risk (n=381)"], "range": ["#1f77b4", "#ff7f0e"]}, "legend": {"title": null, "orient": "top-right", "offset": 2, "fillColor": "white", "strokeColor": "#cccccc", "cornerRadius": 3, "padding": 3, "labelFontSize": 8.2, "labelFont": "DejaVu Sans", "labelColor": "#222222", "symbolType": "stroke", "symbolSize": 225, "symbolStrokeWidth": 1.5, "symbolOpacity": 1, "rowPadding": 1, "labelOffset": 5}}}, "layer": [
          {"mark": {"type": "area", "interpolate": "step-after", "opacity": 0.3}, "encoding": {"y": {"field": "lo", "type": "quantitative", "scale": {"domain": [-0.05, 1.05], "nice": false, "zero": false}, "axis": {"values": [0,0.2,0.4,0.6,0.8,1], "format": ".1f", "title": "Survival probability"}}, "y2": {"field": "hi"}}},
          {"mark": {"type": "line", "interpolate": "step-after", "strokeWidth": 1.2}, "encoding": {"y": {"field": "s", "type": "quantitative", "axis": {"values": [0,0.2,0.4,0.6,0.8,1], "format": ".1f", "title": "Survival probability"}}}}]},
        {"data": {"values": [{"stat": "Log-rank p = 0.007"}, {"stat": "HR = 1.46 (95% CI 1.10-1.95)"}]}, "mark": {"type": "point", "opacity": 0, "size": 0}, "encoding": {"shape": {"field": "stat", "type": "nominal", "sort": null, "legend": {"title": null, "orient": "bottom-left", "offset": 5, "fillColor": "white", "strokeColor": "#aaaaaa", "cornerRadius": 3, "padding": 4.5, "labelFontSize": 6.6, "labelFont": "DejaVu Sans", "labelColor": "#222222", "symbolSize": 0.01, "symbolStrokeWidth": 0, "symbolOpacity": 0, "labelOffset": -5.5, "rowPadding": 3}}}}]}
  ], "spacing": 35, "bounds": "flush", "resolve": {"scale": {"color": "independent", "shape": "independent"}}},
  {"hconcat": [
    {"width": 55, "height": 140, "view": {"stroke": null}, "data": {"values": [{"m": "LANISTR"}]}, "mark": {"type": "text", "angle": 270, "dx": -7, "dy": 2.5, "font": "Liberation Serif", "fontWeight": "bold", "fontSize": 20, "color": "black"}, "encoding": {"text": {"field": "m"}}},
      {"width": 254, "height": 140, "layer": [
        {"data": {"name": "p7"}, "encoding": {"x": {"field": "t", "type": "quantitative", "scale": {"domain": [-260, 5420], "nice": false, "zero": false}, "axis": {"values": [0,1000,2000,3000,4000,5000], "format": "d", "title": "Time to overall survival event (days)"}}, "color": {"field": "g", "type": "nominal", "scale": {"domain": ["High risk (n=382)", "Low risk (n=381)"], "range": ["#1f77b4", "#ff7f0e"]}, "legend": {"title": null, "orient": "top-right", "offset": 2, "fillColor": "white", "strokeColor": "#cccccc", "cornerRadius": 3, "padding": 3, "labelFontSize": 8.2, "labelFont": "DejaVu Sans", "labelColor": "#222222", "symbolType": "stroke", "symbolSize": 225, "symbolStrokeWidth": 1.5, "symbolOpacity": 1, "rowPadding": 1, "labelOffset": 5}}}, "layer": [
          {"mark": {"type": "area", "interpolate": "step-after", "opacity": 0.3}, "encoding": {"y": {"field": "lo", "type": "quantitative", "scale": {"domain": [-0.04, 1.05], "nice": false, "zero": false}, "axis": {"values": [0,0.2,0.4,0.6,0.8,1], "format": ".1f", "title": "Survival probability"}}, "y2": {"field": "hi"}}},
          {"mark": {"type": "line", "interpolate": "step-after", "strokeWidth": 1.2}, "encoding": {"y": {"field": "s", "type": "quantitative", "axis": {"values": [0,0.2,0.4,0.6,0.8,1], "format": ".1f", "title": "Survival probability"}}}}]},
        {"data": {"values": [{"stat": "Log-rank p = 0.018"}, {"stat": "HR = 1.39 (95% CI 1.06-1.82)"}]}, "mark": {"type": "point", "opacity": 0, "size": 0}, "encoding": {"shape": {"field": "stat", "type": "nominal", "sort": null, "legend": {"title": null, "orient": "bottom-left", "offset": 5, "fillColor": "white", "strokeColor": "#aaaaaa", "cornerRadius": 3, "padding": 4.5, "labelFontSize": 6.6, "labelFont": "DejaVu Sans", "labelColor": "#222222", "symbolSize": 0.01, "symbolStrokeWidth": 0, "symbolOpacity": 0, "labelOffset": -5.5, "rowPadding": 3}}}}]},
      {"width": 254, "height": 140, "layer": [
        {"data": {"name": "p8"}, "encoding": {"x": {"field": "t", "type": "quantitative", "scale": {"domain": [-260, 5420], "nice": false, "zero": false}, "axis": {"values": [0,1000,2000,3000,4000,5000], "format": "d", "title": "Time to Recurrence Free Survival Event (days)"}}, "color": {"field": "g", "type": "nominal", "scale": {"domain": ["High risk (n=382)", "Low risk (n=381)"], "range": ["#1f77b4", "#ff7f0e"]}, "legend": {"title": null, "orient": "top-right", "offset": 2, "fillColor": "white", "strokeColor": "#cccccc", "cornerRadius": 3, "padding": 3, "labelFontSize": 8.2, "labelFont": "DejaVu Sans", "labelColor": "#222222", "symbolType": "stroke", "symbolSize": 225, "symbolStrokeWidth": 1.5, "symbolOpacity": 1, "rowPadding": 1, "labelOffset": 5}}}, "layer": [
          {"mark": {"type": "area", "interpolate": "step-after", "opacity": 0.3}, "encoding": {"y": {"field": "lo", "type": "quantitative", "scale": {"domain": [0.391, 1.029], "nice": false, "zero": false}, "axis": {"values": [0.4,0.5,0.6,0.7,0.8,0.9,1], "format": ".1f", "title": "Survival probability"}}, "y2": {"field": "hi"}}},
          {"mark": {"type": "line", "interpolate": "step-after", "strokeWidth": 1.2}, "encoding": {"y": {"field": "s", "type": "quantitative", "axis": {"values": [0.4,0.5,0.6,0.7,0.8,0.9,1], "format": ".1f", "title": "Survival probability"}}}}]},
        {"data": {"values": [{"stat": "Log-rank p = 6.03e-06"}, {"stat": "HR = 1.94 (95% CI 1.44-2.61)"}]}, "mark": {"type": "point", "opacity": 0, "size": 0}, "encoding": {"shape": {"field": "stat", "type": "nominal", "sort": null, "legend": {"title": null, "orient": "bottom-left", "offset": 5, "fillColor": "white", "strokeColor": "#aaaaaa", "cornerRadius": 3, "padding": 4.5, "labelFontSize": 6.6, "labelFont": "DejaVu Sans", "labelColor": "#222222", "symbolSize": 0.01, "symbolStrokeWidth": 0, "symbolOpacity": 0, "labelOffset": -5.5, "rowPadding": 3}}}}]},
      {"width": 254, "height": 140, "layer": [
        {"data": {"name": "p9"}, "encoding": {"x": {"field": "t", "type": "quantitative", "scale": {"domain": [-260, 5420], "nice": false, "zero": false}, "axis": {"values": [0,1000,2000,3000,4000,5000], "format": "d", "title": "Time to Progression Free Survival Event (days)"}}, "color": {"field": "g", "type": "nominal", "scale": {"domain": ["High risk (n=382)", "Low risk (n=381)"], "range": ["#1f77b4", "#ff7f0e"]}, "legend": {"title": null, "orient": "top-right", "offset": 2, "fillColor": "white", "strokeColor": "#cccccc", "cornerRadius": 3, "padding": 3, "labelFontSize": 8.2, "labelFont": "DejaVu Sans", "labelColor": "#222222", "symbolType": "stroke", "symbolSize": 225, "symbolStrokeWidth": 1.5, "symbolOpacity": 1, "rowPadding": 1, "labelOffset": 5}}}, "layer": [
          {"mark": {"type": "area", "interpolate": "step-after", "opacity": 0.3}, "encoding": {"y": {"field": "lo", "type": "quantitative", "scale": {"domain": [0.37, 1.03], "nice": false, "zero": false}, "axis": {"values": [0.4,0.5,0.6,0.7,0.8,0.9,1], "format": ".1f", "title": "Survival probability"}}, "y2": {"field": "hi"}}},
          {"mark": {"type": "line", "interpolate": "step-after", "strokeWidth": 1.2}, "encoding": {"y": {"field": "s", "type": "quantitative", "axis": {"values": [0.4,0.5,0.6,0.7,0.8,0.9,1], "format": ".1f", "title": "Survival probability"}}}}]},
        {"data": {"values": [{"stat": "Log-rank p = 7.43e-07"}, {"stat": "HR = 2.03 (95% CI 1.52-2.73)"}]}, "mark": {"type": "point", "opacity": 0, "size": 0}, "encoding": {"shape": {"field": "stat", "type": "nominal", "sort": null, "legend": {"title": null, "orient": "bottom-left", "offset": 5, "fillColor": "white", "strokeColor": "#aaaaaa", "cornerRadius": 3, "padding": 4.5, "labelFontSize": 6.6, "labelFont": "DejaVu Sans", "labelColor": "#222222", "symbolSize": 0.01, "symbolStrokeWidth": 0, "symbolOpacity": 0, "labelOffset": -5.5, "rowPadding": 3}}}}]}
  ], "spacing": 35, "bounds": "flush", "resolve": {"scale": {"color": "independent", "shape": "independent"}}},
  {"hconcat": [
    {"width": 55, "height": 140, "view": {"stroke": null}, "data": {"values": [{"m": "Multi-FRuGaL"}]}, "mark": {"type": "text", "angle": 270, "dx": 0, "dy": 2.5, "font": "Liberation Serif", "fontWeight": "bold", "fontSize": 20, "color": "black"}, "encoding": {"text": {"field": "m"}}},
      {"width": 254, "height": 140, "layer": [
        {"data": {"name": "p10"}, "encoding": {"x": {"field": "t", "type": "quantitative", "scale": {"domain": [-260, 5420], "nice": false, "zero": false}, "axis": {"values": [0,1000,2000,3000,4000,5000], "format": "d", "title": "Time to overall survival event (days)"}}, "color": {"field": "g", "type": "nominal", "scale": {"domain": ["High risk (n=382)", "Low risk (n=381)"], "range": ["#1f77b4", "#ff7f0e"]}, "legend": {"title": null, "orient": "top-right", "offset": 2, "fillColor": "white", "strokeColor": "#cccccc", "cornerRadius": 3, "padding": 3, "labelFontSize": 8.2, "labelFont": "DejaVu Sans", "labelColor": "#222222", "symbolType": "stroke", "symbolSize": 225, "symbolStrokeWidth": 1.5, "symbolOpacity": 1, "rowPadding": 1, "labelOffset": 5}}}, "layer": [
          {"mark": {"type": "area", "interpolate": "step-after", "opacity": 0.3}, "encoding": {"y": {"field": "lo", "type": "quantitative", "scale": {"domain": [-0.01, 1.048], "nice": false, "zero": false}, "axis": {"values": [0,0.2,0.4,0.6,0.8,1], "format": ".1f", "title": "Survival probability"}}, "y2": {"field": "hi"}}},
          {"mark": {"type": "line", "interpolate": "step-after", "strokeWidth": 1.2}, "encoding": {"y": {"field": "s", "type": "quantitative", "axis": {"values": [0,0.2,0.4,0.6,0.8,1], "format": ".1f", "title": "Survival probability"}}}}]},
        {"data": {"values": [{"stat": "Log-rank p=<1e-4"}, {"stat": "HR=2.38 (95% CI 1.80-3.16)"}]}, "mark": {"type": "point", "opacity": 0, "size": 0}, "encoding": {"shape": {"field": "stat", "type": "nominal", "sort": null, "legend": {"title": null, "orient": "bottom-left", "offset": 4, "fillColor": "white", "strokeColor": "#444444", "cornerRadius": 3, "padding": 3.5, "labelFontSize": 7.3, "labelFont": "DejaVu Sans", "labelColor": "#222222", "symbolSize": 0.01, "symbolStrokeWidth": 0, "symbolOpacity": 0, "labelOffset": -5.5, "rowPadding": 1.5}}}}]},
      {"width": 254, "height": 140, "layer": [
        {"data": {"name": "p11"}, "encoding": {"x": {"field": "t", "type": "quantitative", "scale": {"domain": [-260, 5420], "nice": false, "zero": false}, "axis": {"values": [0,1000,2000,3000,4000,5000], "format": "d", "title": "Time to Recurrence Free Survival Event (days)"}}, "color": {"field": "g", "type": "nominal", "scale": {"domain": ["High risk (n=382)", "Low risk (n=381)"], "range": ["#1f77b4", "#ff7f0e"]}, "legend": {"title": null, "orient": "top-right", "offset": 2, "fillColor": "white", "strokeColor": "#cccccc", "cornerRadius": 3, "padding": 3, "labelFontSize": 8.2, "labelFont": "DejaVu Sans", "labelColor": "#222222", "symbolType": "stroke", "symbolSize": 225, "symbolStrokeWidth": 1.5, "symbolOpacity": 1, "rowPadding": 1, "labelOffset": 5}}}, "layer": [
          {"mark": {"type": "area", "interpolate": "step-after", "opacity": 0.3}, "encoding": {"y": {"field": "lo", "type": "quantitative", "scale": {"domain": [0.317, 1.033], "nice": false, "zero": false}, "axis": {"values": [0.4,0.5,0.6,0.7,0.8,0.9,1], "format": ".1f", "title": "Survival probability"}}, "y2": {"field": "hi"}}},
          {"mark": {"type": "line", "interpolate": "step-after", "strokeWidth": 1.2}, "encoding": {"y": {"field": "s", "type": "quantitative", "axis": {"values": [0.4,0.5,0.6,0.7,0.8,0.9,1], "format": ".1f", "title": "Survival probability"}}}}]},
        {"data": {"values": [{"stat": "Log-rank p=<1e-4"}, {"stat": "HR=3.30 (95% CI 2.36-4.59)"}]}, "mark": {"type": "point", "opacity": 0, "size": 0}, "encoding": {"shape": {"field": "stat", "type": "nominal", "sort": null, "legend": {"title": null, "orient": "bottom-left", "offset": 4, "fillColor": "white", "strokeColor": "#444444", "cornerRadius": 3, "padding": 3.5, "labelFontSize": 7.3, "labelFont": "DejaVu Sans", "labelColor": "#222222", "symbolSize": 0.01, "symbolStrokeWidth": 0, "symbolOpacity": 0, "labelOffset": -5.5, "rowPadding": 1.5}}}}]},
      {"width": 254, "height": 140, "layer": [
        {"data": {"name": "p12"}, "encoding": {"x": {"field": "t", "type": "quantitative", "scale": {"domain": [-260, 5420], "nice": false, "zero": false}, "axis": {"values": [0,1000,2000,3000,4000,5000], "format": "d", "title": "Time to Progression Free Survival Event (days)"}}, "color": {"field": "g", "type": "nominal", "scale": {"domain": ["High risk (n=382)", "Low risk (n=381)"], "range": ["#1f77b4", "#ff7f0e"]}, "legend": {"title": null, "orient": "top-right", "offset": 2, "fillColor": "white", "strokeColor": "#cccccc", "cornerRadius": 3, "padding": 3, "labelFontSize": 8.2, "labelFont": "DejaVu Sans", "labelColor": "#222222", "symbolType": "stroke", "symbolSize": 225, "symbolStrokeWidth": 1.5, "symbolOpacity": 1, "rowPadding": 1, "labelOffset": 5}}}, "layer": [
          {"mark": {"type": "area", "interpolate": "step-after", "opacity": 0.3}, "encoding": {"y": {"field": "lo", "type": "quantitative", "scale": {"domain": [-0.05, 1.05], "nice": false, "zero": false}, "axis": {"values": [0,0.2,0.4,0.6,0.8,1], "format": ".1f", "title": "Survival probability"}}, "y2": {"field": "hi"}}},
          {"mark": {"type": "line", "interpolate": "step-after", "strokeWidth": 1.2}, "encoding": {"y": {"field": "s", "type": "quantitative", "axis": {"values": [0,0.2,0.4,0.6,0.8,1], "format": ".1f", "title": "Survival probability"}}}}]},
        {"data": {"values": [{"stat": "Log-rank p=<1e-4"}, {"stat": "HR=2.71 (95% CI 1.98-3.71)"}]}, "mark": {"type": "point", "opacity": 0, "size": 0}, "encoding": {"shape": {"field": "stat", "type": "nominal", "sort": null, "legend": {"title": null, "orient": "bottom-left", "offset": 4, "fillColor": "white", "strokeColor": "#444444", "cornerRadius": 3, "padding": 3.5, "labelFontSize": 7.3, "labelFont": "DejaVu Sans", "labelColor": "#222222", "symbolSize": 0.01, "symbolStrokeWidth": 0, "symbolOpacity": 0, "labelOffset": -5.5, "rowPadding": 1.5}}}}]}
  ], "spacing": 35, "bounds": "flush", "resolve": {"scale": {"color": "independent", "shape": "independent"}}}
 ], "spacing": 0, "resolve": {"scale": {"color": "independent", "shape": "independent"}}},
 {"width": 929, "height": 3, "view": {"stroke": null}, "data": {"values": [{"edge": "bottom"}]}, "mark": {"type": "rule", "strokeWidth": 1.5, "color": "black"}, "encoding": {"y": {"field": "edge", "type": "nominal", "scale": {"type": "point", "domain": ["top", "bottom"], "padding": 0}, "axis": null}}}
],
"spacing": 3,
"resolve": {"scale": {"color": "independent", "shape": "independent"}}
}
